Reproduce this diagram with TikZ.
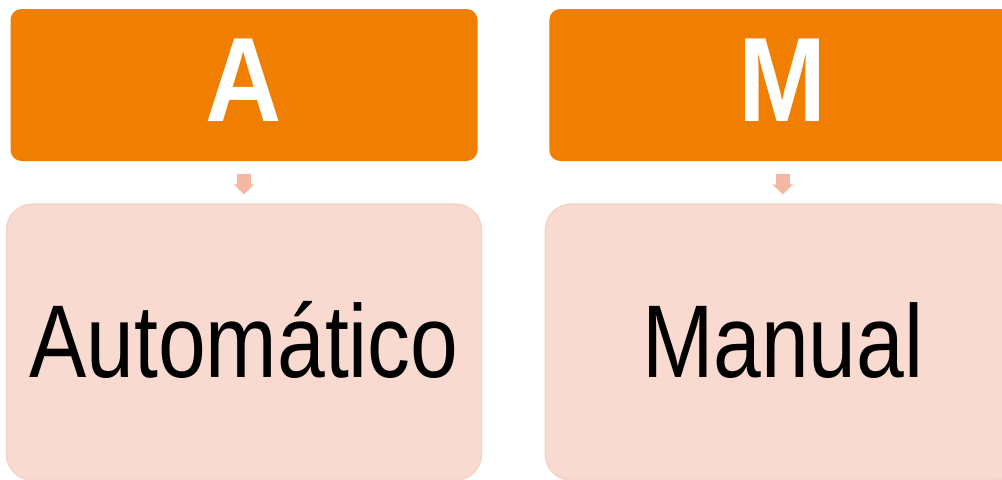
\documentclass[tikz,border=0pt]{standalone}
\usepackage{fontspec}
\usetikzlibrary{positioning}
\usetikzlibrary{arrows.meta}
\newfontfamily\narrowsans[FakeStretch=0.83]{Liberation Sans}
\newfontfamily\headsans[FakeStretch=0.88]{Liberation Sans}
\definecolor{headorange}{RGB}{240,126,0}
\definecolor{bodypink}{RGB}{248,218,208}
\definecolor{bodyline}{RGB}{246,211,199}
\definecolor{arrowpink}{RGB}{244,185,163}

\begin{document}
\begin{tikzpicture}[x=0.5pt, y=0.5pt,
                          headnode/.style={rectangle, rounded corners=5.5pt, fill=headorange, text=white, minimum width=233.5pt, minimum height=76pt, inner sep=0pt, font=\headsans\bfseries\fontsize{60}{60}\selectfont, text height=43pt, text depth=6.5pt},
                          bodynode/.style={rectangle, rounded corners=13pt, fill=bodypink, draw=bodyline, line width=0.75pt, minimum width=237.5pt, minimum height=138pt, inner sep=0pt, font=\narrowsans\fontsize{51.7}{52}\selectfont, text height=37pt, text depth=2pt},
                          downarrow/.style={arrowpink, line width=7pt, -{Triangle[width=10pt,length=5pt]}, shorten <=6.5pt, shorten >=4.5pt},
                      ]
                      \useasboundingbox (0,0) rectangle (1002,479);
                      \clip (0,0) rectangle (1002,479);
                      % Nodes
                      \node[headnode]        (head_a)     at (244,394)        {A};
                      \node[bodynode]        (body_a)     [below=21pt of head_a]        {Automático};

                      \node[headnode]        (head_m)     [right=35.5pt of head_a]        {M};
                      \node[bodynode]        (body_m)     [below=21pt of head_m]        {Manual};

                      %Lines
                      \draw[downarrow] (head_a.south) -- (body_a.north);
                      \draw[downarrow] (head_m.south) -- (body_m.north);
                  \end{tikzpicture}
\end{document}
